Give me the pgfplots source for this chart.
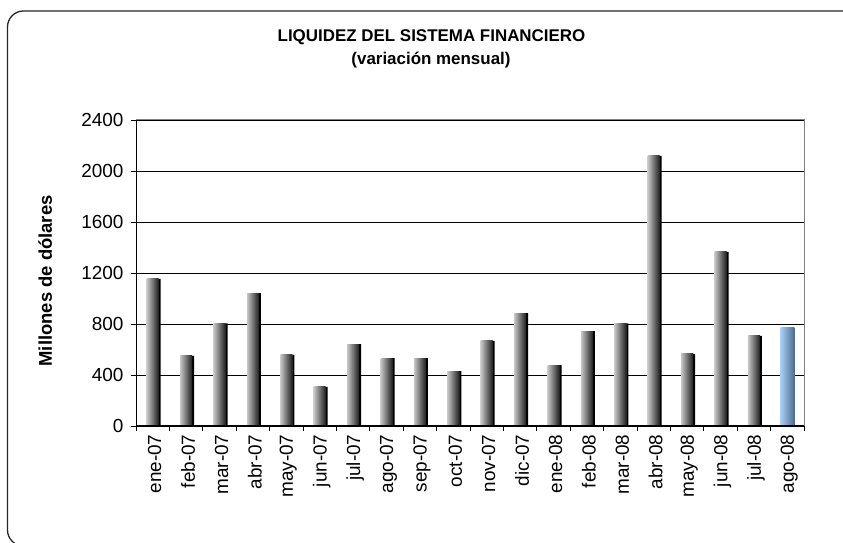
\documentclass[border=0pt]{standalone}
\usepackage{pgfplots}
\pgfplotsset{compat=1.18}
\usepackage{fontspec}
\setmainfont{Liberation Sans}
\definecolor{framec}{HTML}{808080}
\definecolor{bluel}{HTML}{A8D0F6}
\definecolor{blued}{HTML}{4D6C90}
\pgfplotsset{
  gb/.style={draw=none, left color=black!22, right color=black!88, bar shift=0pt, bar width=12bp},
  sh/.style={draw=none, fill=black, bar shift=2bp, bar width=12bp},
}
\begin{document}
\begin{tikzpicture}[x=1bp,y=1bp]
\path[use as bounding box] (0,0) rectangle (843,543);
\begin{scope}
\clip (0,0) rectangle (843,543);
\draw[line width=1.3bp, black!85, rounded corners=16bp] (7.5,-3) rectangle (858,532);
\end{scope}
\node[font=\fontsize{17}{20}\selectfont\bfseries] at (431.5,505.5) {LIQUIDEZ DEL SISTEMA FINANCIERO};
\node[font=\fontsize{17}{20}\selectfont\bfseries] at (431,483) {(variación mensual)};
\begin{axis}[
  at={(136bp,117bp)}, anchor=south west,
  width=668bp, height=306bp, scale only axis,
  xmin=-0.5, xmax=19.5, ymin=0, ymax=2400,
  ytick={0,400,...,2400},
  xtick={-0.5,0.5,...,19.5},
  x tick label as interval,
  xtick pos=bottom, ytick pos=left,
  xticklabels={ene-07,feb-07,mar-07,abr-07,may-07,jun-07,jul-07,ago-07,sep-07,oct-07,nov-07,dic-07,ene-08,feb-08,mar-08,abr-08,may-08,jun-08,jul-08,ago-08},
  xticklabel style={rotate=90, anchor=east, font=\fontsize{19}{22}\selectfont, yshift=-2bp},
  yticklabel style={font=\fontsize{19}{22}\selectfont, xshift=-4bp},
  /pgf/number format/assume math mode=true,
  /pgf/number format/1000 sep={},
  tick align=outside,
  major tick length=5bp,
  tick style={black, line width=0.8bp},
  ymajorgrids, grid style={black, line width=0.9bp},
  axis line style={framec, line width=1bp},
  ylabel={Millones de dólares},
  every axis y label/.style={at={(axis description cs:-0.136,0.474)}, rotate=90, anchor=center, font=\fontsize{18.5}{20}\selectfont\bfseries},
  ybar,
  after end axis/.code={\draw[black, line width=1bp] (rel axis cs:0,1) -- (rel axis cs:0,0) -- (rel axis cs:1,0);},
]
% shadows
\addplot[sh] coordinates {
(0,1153) (1,549) (2,805) (3,1043) (4,557) (5,306) (6,643) (7,533) (8,533) (9,431)
(10,667) (11,886) (12,478) (13,745) (14,805) (15,2118) (16,565) (17,1365) (18,706)};
% main bars, one plot each so that each bar has its own shading
\addplot[gb] coordinates {(0,1153)};
\addplot[gb] coordinates {(1,549)};
\addplot[gb] coordinates {(2,805)};
\addplot[gb] coordinates {(3,1043)};
\addplot[gb] coordinates {(4,557)};
\addplot[gb] coordinates {(5,306)};
\addplot[gb] coordinates {(6,643)};
\addplot[gb] coordinates {(7,533)};
\addplot[gb] coordinates {(8,533)};
\addplot[gb] coordinates {(9,431)};
\addplot[gb] coordinates {(10,667)};
\addplot[gb] coordinates {(11,886)};
\addplot[gb] coordinates {(12,478)};
\addplot[gb] coordinates {(13,745)};
\addplot[gb] coordinates {(14,805)};
\addplot[gb] coordinates {(15,2118)};
\addplot[gb] coordinates {(16,565)};
\addplot[gb] coordinates {(17,1365)};
\addplot[gb] coordinates {(18,706)};
% last bar
\addplot[draw=none, left color=bluel, right color=blued, bar shift=0pt, bar width=14bp] coordinates {(19,776)};
\end{axis}
\end{tikzpicture}
\end{document}
